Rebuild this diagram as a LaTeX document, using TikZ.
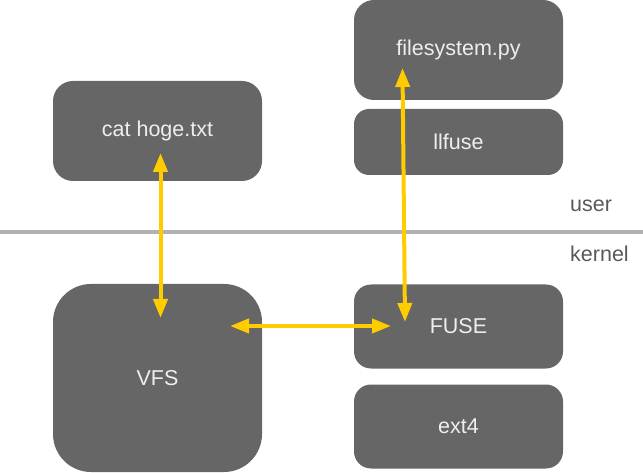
\documentclass[tikz,border=0pt]{standalone}
\usepackage{fontspec}
\setmainfont{Liberation Sans}
\usetikzlibrary{arrows.meta}
\definecolor{boxgray}{HTML}{666666}
\definecolor{boxtext}{HTML}{EEEEEE}
\definecolor{arrowyellow}{HTML}{FFCC00}
\definecolor{linegray}{HTML}{B3B3B3}
\definecolor{labelgray}{HTML}{595959}
\tikzset{
  block/.style={rectangle, fill=boxgray, text=boxtext, inner sep=0pt,
    minimum width=209pt, font=\fontsize{21.5}{24}\selectfont},
  flow/.style={draw=arrowyellow, line width=4pt,
    {Triangle[width=14pt,length=19pt]}-{Triangle[width=14pt,length=19pt]}},
  side/.style={text=labelgray, anchor=base west, inner sep=0pt, font=\fontsize{21.5}{24}\selectfont}
}
\begin{document}
\begin{tikzpicture}[x=1pt,y=-1pt]
\useasboundingbox (0,0) rectangle (643,473);
\draw[linegray, line width=4pt] (0,232) coordinate (l1) -- (643,232) coordinate (l2);
\node[block, minimum height=100pt, rounded corners=20pt] (cat) at (157.5,131) {cat hoge.txt};
\node[block, minimum height=100pt, rounded corners=20pt] (fs) at (458.5,50) {filesystem.py};
\node[block, minimum height=66pt, rounded corners=15pt] (llfuse) at (458.5,142) {llfuse};
\node[block, minimum height=188pt, rounded corners=38pt] (vfs) at (157.5,378) {VFS};
\node[block, minimum height=84pt, rounded corners=17pt] (fuse) at (458.5,326.5) {FUSE};
\node[block, minimum height=84pt, rounded corners=17pt] (ext4) at (458.5,426.5) {ext4};
\node[side] (user) at (570,212) {user};
\node[side] (kernel) at (570,262) {kernel};
\coordinate (catin) at (160.5,153);
\coordinate (vfsin) at (160.5,318);
\coordinate (fsin) at (402.5,68);
\coordinate (fusein) at (405,322);
\coordinate (vfsr) at (230,326);
\coordinate (fusel) at (391,326);
\draw[flow] (catin) -- (vfsin);
\draw[flow] (fsin) -- (fusein);
\draw[flow] (vfsr) -- (fusel);
\end{tikzpicture}
\end{document}
